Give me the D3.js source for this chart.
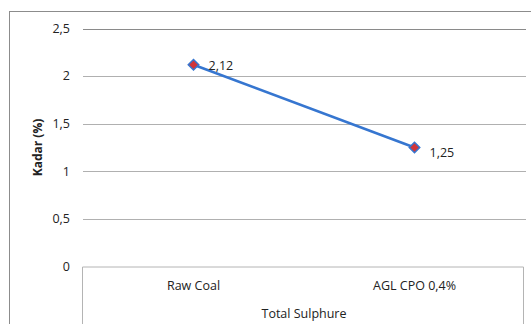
<!DOCTYPE html>
<html><head><meta charset="utf-8">
<script src="https://cdn.jsdelivr.net/npm/d3@7"></script>
<style>body{margin:0;background:#fff}svg{display:block}text{font-family:"Open Sans",sans-serif;fill:#222}</style>
</head><body>
<svg id="c" width="531" height="324"></svg>
<script>
const categories = ["Raw Coal", "AGL CPO 0,4%"];
const values = [2.12, 1.25];
const valueLabels = ["2,12", "1,25"];
const yTicks = [0, 0.5, 1, 1.5, 2, 2.5];
const yTickLabels = ["0", "0,5", "1", "1,5", "2", "2,5"];
const groupLabel = "Total Sulphure";
const yTitle = "Kadar (%)";

const svg = d3.select("#c");
const L = 83, R = 525, T = 28.5, B = 266.5;
const x = d3.scaleBand().domain(categories).range([L, R]);
const y = d3.scaleLinear().domain([0, 2.5]).range([B, T]);

// outer border
svg.append("rect").attr("x", 9.5).attr("y", 11.5).attr("width", 700).attr("height", 400)
  .attr("fill", "none").attr("stroke", "#8c8c8c");

// gridlines
svg.append("g").selectAll("line").data(yTicks.filter(d => d > 0)).join("line")
  .attr("x1", L).attr("x2", R + 1)
  .attr("y1", d => Math.round(y(d)) + 0.5).attr("y2", d => Math.round(y(d)) + 0.5)
  .attr("stroke", d => d === 2.5 ? "#8a8a8a" : "#b0b0b0");

// tick labels
svg.append("g").selectAll("text").data(yTicks).join("text")
  .attr("x", 70).attr("y", d => y(d)).attr("dy", "0.35em")
  .attr("text-anchor", "end").style("font-size", "12.5px")
  .text((d, i) => yTickLabels[i]);

// category box
svg.append("path")
  .attr("d", `M${L - 0.5},330 V${B + 0.5} H${R - 1.5} V330`)
  .attr("fill", "none").attr("stroke", "#b4b4b4");

svg.append("g").selectAll("text").data(categories).join("text")
  .attr("x", d => x(d) + x.bandwidth() / 2).attr("y", 290)
  .attr("text-anchor", "middle").style("font-size", "12.5px").text(d => d);

svg.append("text").attr("x", (L + R) / 2).attr("y", 318)
  .attr("text-anchor", "middle").style("font-size", "12.5px").text(groupLabel);

// y title
svg.append("text").attr("transform", `translate(42,147.5) rotate(-90)`)
  .attr("text-anchor", "middle").style("font-size", "12px").style("font-weight", "bold")
  .text(yTitle);

// line
const pts = categories.map((c, i) => [x(c) + x.bandwidth() / 2, y(values[i])]);
svg.append("path").attr("d", d3.line()(pts)).attr("fill", "none")
  .attr("stroke", "#3676d0").attr("stroke-width", 2.6);

// markers
svg.append("g").selectAll("path").data(pts).join("path")
  .attr("transform", d => `translate(${d[0]},${d[1]})`)
  .attr("d", d3.symbol(d3.symbolDiamond2, 70)())
  .attr("fill", "#d0353a").attr("stroke", "#3676d0").attr("stroke-width", 1.5);

// data labels
const labelDy = [1, 5];
svg.append("g").selectAll("text").data(pts).join("text")
  .attr("x", d => d[0] + 15).attr("y", (d, i) => d[1] + labelDy[i]).attr("dy", "0.35em")
  .style("font-size", "12.5px").text((d, i) => valueLabels[i]);
</script>
</body></html>
